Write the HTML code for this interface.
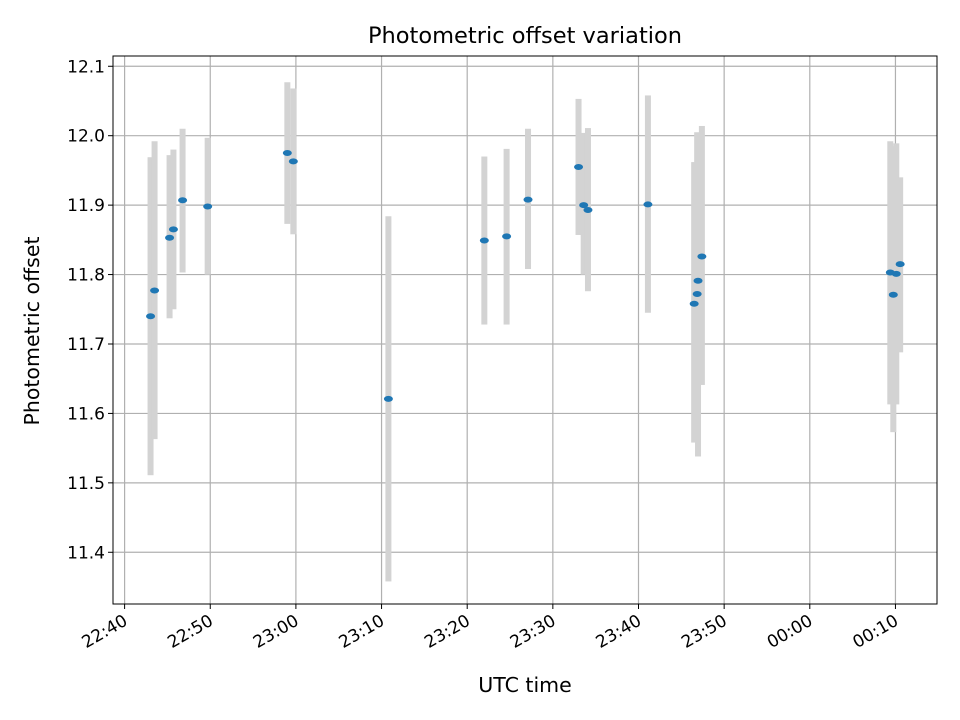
<!DOCTYPE html>
<html><head><meta charset="utf-8"><style>
body{margin:0;background:#fff}
svg{display:block;font-family:"DejaVu Sans","Liberation Sans",sans-serif}
</style></head><body>
<svg id="chart" width="960" height="720" viewBox="0 0 960 720">
<rect x="0" y="0" width="960" height="720" fill="#fff"/>
<g id="grid"></g><g id="bars"></g><g id="pts"></g><g id="axes"></g>
<text x="525" y="43" text-anchor="middle" font-size="22.5" fill="#000">Photometric offset variation</text>
<text x="525" y="692" text-anchor="middle" font-size="20.5" fill="#000">UTC time</text>
<text transform="translate(39,331) rotate(-90)" text-anchor="middle" font-size="20.5" fill="#000">Photometric offset</text>
</svg>
<script>
// minutes after 22:40
const times=[3.03,3.5,5.25,5.7,6.77,9.7,19.0,19.7,30.8,42.0,44.6,47.1,53.0,53.6,54.1,61.1,66.5,66.85,66.95,67.4,89.4,89.75,90.1,90.55];
const values=[11.740,11.777,11.853,11.865,11.907,11.898,11.975,11.963,11.621,11.849,11.855,11.908,11.955,11.900,11.893,11.901,11.758,11.772,11.791,11.826,11.803,11.771,11.801,11.815];
const errLow=[11.511,11.563,11.737,11.750,11.803,11.800,11.873,11.858,11.358,11.728,11.728,11.808,11.857,11.800,11.776,11.745,11.558,11.584,11.538,11.641,11.613,11.573,11.613,11.688];
const errHigh=[11.969,11.992,11.972,11.980,12.010,11.997,12.077,12.068,11.884,11.970,11.981,12.010,12.053,12.004,12.011,12.058,11.962,12.005,11.990,12.014,11.992,11.985,11.989,11.940];
const yTicks=[11.4,11.5,11.6,11.7,11.8,11.9,12.0,12.1];
const xTickMin=[0,10,20,30,40,50,60,70,80,90];
const xTickLabels=["22:40","22:50","23:00","23:10","23:20","23:30","23:40","23:50","00:00","00:10"];
const L=113,R=937,T=56,B=604;
const X=m=>124.6+m*8.565;
const Y=v=>135.7-(v-12.0)*694.3;
const NS="http://www.w3.org/2000/svg";
function mk(tag,parent,attrs){const e=document.createElementNS(NS,tag);for(const k in attrs)e.setAttribute(k,attrs[k]);document.getElementById(parent).appendChild(e);return e;}
yTicks.forEach((v,i)=>{
  const g=mk('line','grid',{x1:L,x2:R,y1:Y(v),y2:Y(v),stroke:'#b0b0b0','stroke-width':1.2});
  
  
  const t=mk('line','axes',{x1:L-5,x2:L,y1:Y(v),y2:Y(v),stroke:'#000','stroke-width':1});
  
  
  const l=mk('text','axes',{x:L-8,y:Y(v)+6,'text-anchor':'end','font-size':17,fill:'#000'});
  l.textContent=v.toFixed(1);
  
  
});
xTickMin.forEach((m,i)=>{
  const x=X(m);
  const g=mk('line','grid',{x1:x,x2:x,y1:T,y2:B,stroke:'#b0b0b0','stroke-width':1.2});
  
  
  const t=mk('line','axes',{x1:x,x2:x,y1:B,y2:B+5,stroke:'#000','stroke-width':1});
  
  
  const l=mk('text','axes',{transform:`translate(${x+4},${B+20}) rotate(-30)`,'text-anchor':'end','font-size':17,fill:'#000'});
  l.textContent=xTickLabels[i];
  
  
});
times.forEach((m,i)=>{
  const x=X(m);
  const b=mk('rect','bars',{x:x-3,y:Y(errHigh[i]),width:6,height:Y(errLow[i])-Y(errHigh[i]),fill:'#d3d3d3'});
  
  
});
times.forEach((m,i)=>{
  const p=mk('ellipse','pts',{cx:X(m),cy:Y(values[i]),rx:4.5,ry:3,fill:'#1f77b4'});
  
  
});
const f=mk('rect','axes',{x:L,y:T,width:R-L,height:B-T,fill:'none',stroke:'#000','stroke-width':1});


</script>
</body></html>
